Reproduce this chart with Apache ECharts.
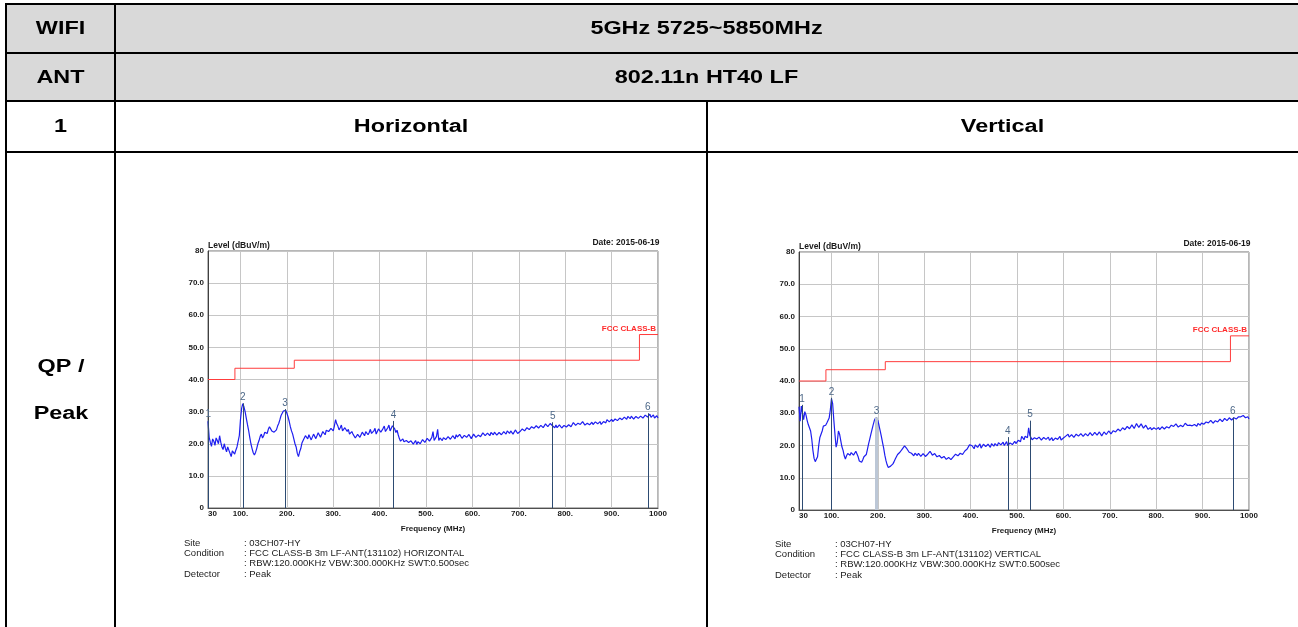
<!DOCTYPE html>
<html>
<head>
<meta charset="utf-8">
<title>Radiated Emission 30-1000 MHz</title>
<script src="https://cdn.jsdelivr.net/npm/echarts@6/dist/echarts.min.js"></script>
<style>
  html, body { margin: 0; padding: 0; background: #fff; overflow: hidden; }
  #chart { width: 1298px; height: 627px; }
</style>
</head>
<body>
<div id="chart"></div>
<script>
// ---- sweep data: 30 MHz to 1000 MHz, one reading every 2.5 MHz ----
const sweepStart = 30;
const sweepStep = 2.5;

// one row = 50 MHz
const levelHorizontal = [
  27.0, 22.0, 20.5, 19.2, 21.5, 20.8, 19.5, 21.8, 21.0, 20.0, 22.5, 20.5, 19.0, 18.2, 20.0, 18.6, 17.5, 19.0, 18.5, 17.0,
  16.0, 17.8, 17.5, 16.8, 18.0, 19.0, 19.5, 22.5, 27.5, 31.0, 32.5, 31.5, 30.0, 28.0, 26.0, 24.2, 22.0, 20.0, 18.5, 17.2,
  16.5, 17.3, 18.5, 20.0, 21.0, 22.3, 23.0, 21.8, 22.5, 23.6, 24.0, 23.2, 24.5, 25.3, 25.0, 24.0, 24.5, 23.6, 23.5, 24.3,
  25.5, 26.3, 27.5, 28.8, 29.5, 30.2, 30.8, 30.4, 29.5, 28.4, 27.0, 25.3, 24.0, 23.0, 21.5, 20.0, 19.0, 17.0, 16.0, 17.5,
  18.5, 20.2, 21.0, 21.4, 22.5, 23.0, 21.5, 22.8, 22.5, 21.2, 21.8, 23.0, 22.8, 21.6, 22.0, 23.4, 23.0, 22.0, 22.3, 23.8,
  23.5, 22.8, 24.2, 24.8, 23.8, 23.2, 24.8, 25.3, 24.0, 25.6, 27.5, 26.2, 25.5, 24.3, 25.0, 25.8, 24.0, 23.5, 25.0, 24.4,
  23.8, 24.5, 23.0, 22.4, 23.8, 23.0, 22.5, 21.8, 22.0, 22.9, 23.0, 22.0, 22.3, 23.6, 23.2, 22.5, 23.8, 24.2, 22.8, 23.5,
  24.5, 23.2, 23.5, 24.0, 24.8, 23.0, 23.6, 24.6, 25.2, 23.6, 24.0, 24.8, 25.5, 23.8, 24.2, 25.0, 25.8, 24.0, 24.5, 25.6,
  25.0, 24.6, 23.5, 24.2, 22.8, 21.6, 20.8, 20.3, 21.5, 20.6, 20.2, 21.0, 21.3, 20.4, 20.0, 20.9, 21.0, 19.9, 20.4, 21.0,
  19.8, 20.6, 21.2, 20.0, 20.5, 21.3, 21.6, 20.4, 21.0, 21.7, 22.0, 20.8, 21.2, 22.0, 23.8, 21.0, 21.5, 22.3, 24.5, 21.0,
  21.8, 22.4, 21.0, 21.9, 22.3, 21.3, 21.5, 22.2, 22.6, 21.4, 21.8, 22.5, 22.0, 21.5, 22.8, 22.1, 21.6, 22.9, 22.5, 21.7,
  22.0, 22.6, 23.0, 22.0, 21.8, 22.9, 22.4, 21.6, 22.0, 23.0, 22.8, 22.0, 22.3, 22.7, 23.0, 22.2, 22.6, 23.4, 23.3, 22.5,
  22.7, 23.3, 23.0, 22.5, 23.5, 23.0, 22.8, 23.6, 23.4, 22.7, 23.0, 23.5, 23.7, 22.8, 23.1, 23.8, 23.5, 23.0, 24.0, 23.6,
  23.2, 24.0, 23.8, 23.0, 23.4, 24.3, 23.9, 23.2, 23.5, 23.8, 24.2, 24.6, 24.8, 24.0, 24.3, 25.0, 25.2, 24.4, 24.8, 25.3,
  25.5, 24.8, 25.0, 25.6, 25.8, 24.9, 25.2, 25.7, 26.0, 25.0, 25.4, 26.2, 26.3, 25.3, 25.6, 26.3, 26.0, 25.6, 25.3, 25.0,
  25.8, 25.0, 25.1, 25.9, 25.7, 24.9, 25.2, 25.7, 25.9, 25.2, 25.4, 25.9, 26.2, 25.3, 25.6, 26.6, 26.3, 25.7, 26.0, 26.4,
  26.8, 26.0, 26.2, 26.9, 26.6, 25.8, 26.0, 26.4, 26.7, 25.9, 26.3, 26.7, 26.0, 25.7, 26.8, 26.3, 26.2, 26.6, 26.9, 26.0,
  26.4, 26.9, 27.0, 26.5, 27.5, 27.0, 26.8, 27.4, 27.6, 26.9, 27.1, 27.7, 27.8, 27.2, 27.4, 28.0, 28.2, 27.5, 27.6, 28.3,
  28.0, 27.6, 28.5, 28.0, 27.8, 28.6, 28.4, 27.7, 28.0, 28.5, 28.6, 27.9, 28.2, 28.6, 28.8, 28.0, 28.4, 28.9, 29.0, 28.3,
  28.6, 29.2, 28.2, 28.5, 29.0, 28.0, 28.3, 28.7, 28.0
];

const levelVertical = [
  32.0, 27.5, 32.2, 30.0, 28.0, 30.5, 29.5, 27.8, 26.5, 26.0, 24.5, 22.0, 18.5, 16.0, 15.0, 15.3, 16.5, 20.0, 22.5, 23.0,
  24.5, 26.0, 25.5, 26.3, 27.0, 27.4, 28.5, 31.0, 34.5, 33.0, 28.0, 23.5, 19.5, 21.0, 24.5, 23.5, 21.5, 19.6, 18.5, 16.8,
  15.8, 16.8, 17.5, 18.0, 17.0, 17.8, 18.0, 17.0, 17.3, 18.2, 18.0, 16.5, 15.2, 15.8, 14.8, 15.6, 16.5, 17.0, 17.2, 18.8,
  20.5, 22.0, 23.5, 25.0, 26.5, 27.8, 28.5, 28.7, 27.8, 26.2, 24.5, 22.8, 21.0, 19.2, 17.0, 15.3, 14.0, 13.2, 12.8, 13.6,
  14.0, 14.3, 15.0, 15.8, 16.5, 17.2, 17.5, 17.9, 18.5, 18.9, 19.2, 19.9, 19.8, 19.0, 18.5, 17.9, 18.0, 17.6, 17.2, 16.8,
  17.6, 17.1, 16.9, 17.6, 17.4, 16.6, 16.8, 17.5, 17.2, 16.6, 16.7, 17.3, 17.5, 18.2, 18.0, 17.0, 16.8, 17.5, 17.2, 16.5,
  16.3, 16.9, 16.8, 16.1, 16.0, 16.6, 16.5, 15.7, 15.8, 16.3, 16.4, 15.6, 15.9, 16.5, 16.8, 17.3, 17.5, 16.8, 17.0, 17.6,
  18.0, 17.2, 17.6, 18.3, 18.6, 18.9, 19.5, 20.2, 20.8, 20.0, 19.5, 19.0, 20.2, 20.6, 19.4, 19.9, 20.5, 19.2, 19.6, 20.4,
  20.3, 19.7, 19.5, 20.4, 20.0, 19.4, 20.6, 20.2, 19.8, 20.6, 20.4, 19.9, 20.9, 20.5, 20.2, 20.8, 21.0, 20.0, 20.5, 21.2,
  20.0, 19.6, 20.8, 20.4, 20.3, 20.9, 21.3, 20.6, 21.0, 21.6, 22.0, 21.2, 22.8, 22.3, 21.8, 22.9, 23.5, 22.4, 25.5, 23.2,
  22.5, 21.8, 22.0, 22.4, 22.6, 22.0, 21.9, 22.6, 22.5, 21.7, 22.0, 22.5, 22.8, 21.9, 22.2, 22.6, 21.6, 22.0, 22.4, 21.5,
  21.8, 22.3, 22.7, 21.9, 22.2, 22.8, 21.7, 22.2, 22.3, 21.8, 22.9, 23.2, 23.5, 22.6, 22.8, 23.4, 23.4, 22.5, 22.9, 23.5,
  23.8, 22.9, 23.0, 23.7, 23.6, 22.8, 23.2, 23.7, 23.9, 23.0, 23.3, 24.0, 23.8, 23.1, 23.4, 24.1, 24.0, 23.2, 23.5, 24.2,
  23.8, 23.0, 23.3, 24.2, 24.0, 23.4, 23.6, 24.5, 24.3, 23.6, 24.0, 24.6, 24.8, 24.2, 24.4, 25.1, 25.3, 24.5, 24.9, 25.5,
  25.6, 24.9, 25.2, 25.9, 26.0, 25.2, 25.4, 26.4, 26.2, 25.3, 25.7, 26.8, 26.5, 25.6, 25.9, 26.7, 26.3, 25.4, 25.6, 26.3,
  26.0, 25.0, 25.3, 25.6, 24.9, 24.6, 25.5, 25.2, 25.0, 25.5, 25.6, 24.9, 25.2, 25.8, 25.9, 25.1, 25.4, 25.8, 26.1, 25.4,
  25.8, 26.3, 26.6, 25.9, 26.0, 26.7, 26.4, 25.7, 26.0, 26.3, 26.5, 25.8, 26.1, 26.9, 26.6, 26.2, 26.0, 26.3, 26.5, 26.1,
  25.9, 26.5, 26.4, 26.0, 26.8, 26.5, 26.3, 27.0, 27.0, 26.6, 26.8, 27.3, 27.5, 27.0, 27.0, 27.8, 27.6, 26.9, 27.2, 27.7,
  27.9, 27.3, 27.5, 28.2, 28.0, 27.4, 27.6, 28.4, 28.3, 27.7, 27.8, 28.6, 28.5, 27.9, 28.1, 28.6, 28.8, 28.2, 28.4, 28.9,
  29.4, 28.9, 28.6, 29.3, 29.0, 28.6, 28.4, 28.9, 28.2
];

// FCC Part 15 Class B limit at 3 m (step line)
const limitFreq = [30, 88, 216, 960, 1000];
const limitLevel = [40, 43.5, 46, 54, 54];
const limitName = 'FCC CLASS-B';

// marker table
const markerLabels = ['1', '2', '3', '4', '5', '6'];
const markerFreqH = [30.5, 105, 196, 430, 773, 978];
const markerLevelH = [27.4, 32.6, 30.8, 27.1, 26.7, 29.5];
const markerFreqV = [36.5, 100, 197, 480, 528, 965];
const markerLevelV = [32.6, 34.8, 28.7, 22.6, 27.7, 28.7];

// axis ticks
const xTickValues = [30, 100, 200, 300, 400, 500, 600, 700, 800, 900, 1000];
const xTickLabels = ['30', '100.', '200.', '300.', '400.', '500.', '600.', '700.', '800.', '900.', '1000'];
const yTickLabels = ['0', '10.0', '20.0', '30.0', '40.0', '50.0', '60.0', '70.0', '80'];

// report table text
const bandLabel = ['WIFI', '5GHz 5725~5850MHz'];
const antLabel = ['ANT', '802.11n HT40 LF'];
const polRow = ['1', 'Horizontal', 'Vertical'];
const detectorCell = ['QP /', 'Peak'];

// chart header / footer text
const levelTitle = 'Level (dBuV/m)';
const dateTitle = 'Date: 2015-06-19';
const footerKeys = ['Site', 'Condition', '', 'Detector'];
const footerH = [': 03CH07-HY', ': FCC CLASS-B 3m LF-ANT(131102) HORIZONTAL', ': RBW:120.000KHz VBW:300.000KHz SWT:0.500sec', ': Peak'];
const footerV = [': 03CH07-HY', ': FCC CLASS-B 3m LF-ANT(131102) VERTICAL', ': RBW:120.000KHz VBW:300.000KHz SWT:0.500sec', ': Peak'];

// ---- layout ----
const FONT = '"Liberation Sans", Arial, sans-serif';
const grids = [
  { left: 208, top: 251, width: 450, height: 257 },
  { left: 799, top: 252, width: 450, height: 258 }
];

function toPairs(levels) {
  return levels.map((v, i) => [sweepStart + i * sweepStep, v]);
}

function xAxisFor(gridIndex) {
  return {
    type: 'value', gridIndex, min: 30, max: 1000, splitNumber: 10,
    axisLine: { show: true, onZero: false, lineStyle: { color: '#505050', width: 1 } },
    axisTick: { show: false, customValues: xTickValues },
    axisLabel: {
      customValues: xTickValues,
      formatter: v => xTickLabels[xTickValues.indexOf(v)],
      margin: 2, fontSize: 8, fontWeight: 'bold', color: '#1a1a1a', fontFamily: FONT,
      showMinLabel: true, showMaxLabel: true, alignMinLabel: 'left'
    },
    splitLine: { show: true, lineStyle: { color: '#c6c6c6', width: 1 } },
    name: 'Frequency (MHz)', nameLocation: 'middle', nameGap: 17,
    nameTextStyle: { fontSize: 8, fontWeight: 'bold', color: '#1a1a1a', fontFamily: FONT }
  };
}

function yAxisFor(gridIndex) {
  return {
    type: 'value', gridIndex, min: 0, max: 80, interval: 10,
    axisLine: { show: true, onZero: false, lineStyle: { color: '#404040', width: 1 } },
    axisTick: { show: false },
    axisLabel: {
      formatter: v => yTickLabels[Math.round(v / 10)],
      margin: 4, fontSize: 8, fontWeight: 'bold', color: '#1a1a1a', fontFamily: FONT
    },
    splitLine: { show: true, lineStyle: { color: '#c6c6c6', width: 1 } }
  };
}

function traceSeries(idx, levels, mFreq, mLevel, shadedMarkers) {
  const lines = mFreq.map((f, i) => [{ coord: [f, 0] }, { coord: [f, mLevel[i]] }]);
  const series = [{
    type: 'line', xAxisIndex: idx, yAxisIndex: idx,
    data: toPairs(levels), showSymbol: false, symbol: 'none',
    lineStyle: { color: '#1e1ef0', width: 1.2 }, z: 3, animation: false,
    emphasis: { disabled: true },
    markLine: {
      silent: true, symbol: ['none', 'none'], animation: false, z: 4,
      lineStyle: { color: '#2d4b72', width: 1, type: 'solid' },
      label: {
        show: true, position: 'end', distance: 1,
        formatter: p => markerLabels[p.dataIndex],
        color: '#4d6888', fontSize: 10, fontFamily: FONT
      },
      emphasis: { disabled: true },
      data: lines
    }
  }];
  if (shadedMarkers.length) {
    // soft halo behind some marker lines
    series.push({
      type: 'line', xAxisIndex: idx, yAxisIndex: idx, data: [], z: 2,
      markLine: {
        silent: true, symbol: ['none', 'none'], animation: false,
        lineStyle: { color: '#bcc7d6', width: 3, type: 'solid' },
        label: { show: false }, emphasis: { disabled: true },
        data: shadedMarkers.map(i => lines[i])
      }
    });
  }
  return series;
}

function limitSeries(idx) {
  return {
    type: 'line', xAxisIndex: idx, yAxisIndex: idx, step: 'end',
    data: limitFreq.map((f, i) => [f, limitLevel[i]]),
    showSymbol: false, symbol: 'none', animation: false, z: 3,
    lineStyle: { color: '#ff3c3c', width: 1 },
    emphasis: { disabled: true },
    markPoint: {
      symbol: 'circle', symbolSize: 0, silent: true, animation: false,
      data: [{ coord: [limitFreq[limitFreq.length - 1], limitLevel[limitLevel.length - 1]] }],
      label: {
        show: true, position: 'top', distance: 2, align: 'right', offset: [-2, 0],
        formatter: limitName, color: '#ff2a2a', fontWeight: 'bold', fontSize: 8, fontFamily: FONT
      }
    }
  };
}

// ---- report table graphics ----
const W = 1298, H = 627;
const colA = 6, colB = 115, colC = 707;
const rowY = [4, 53, 101, 152];
const gfx = [];

gfx.push({ type: 'rect', shape: { x: colA, y: rowY[0], width: W - colA, height: rowY[2] - rowY[0] }, style: { fill: '#d9d9d9' }, z: 0 });
rowY.forEach(y => gfx.push({ type: 'line', shape: { x1: colA - 1, y1: y, x2: W, y2: y }, style: { stroke: '#000', lineWidth: 2 }, z: 1 }));
gfx.push({ type: 'line', shape: { x1: colA, y1: rowY[0] - 1, x2: colA, y2: H }, style: { stroke: '#000', lineWidth: 2 }, z: 1 });
gfx.push({ type: 'line', shape: { x1: colB, y1: rowY[0] - 1, x2: colB, y2: H }, style: { stroke: '#000', lineWidth: 2 }, z: 1 });
gfx.push({ type: 'line', shape: { x1: colC, y1: rowY[2], x2: colC, y2: H }, style: { stroke: '#000', lineWidth: 2 }, z: 1 });

function cellText(text, x, y) {
  return {
    type: 'text', x, y, scaleX: 1.3, z: 2,
    style: { text, font: 'bold 18px ' + FONT, fill: '#000', align: 'center', verticalAlign: 'middle' }
  };
}
gfx.push(cellText(bandLabel[0], (colA + colB) / 2, 29));
gfx.push(cellText(bandLabel[1], (colB + W) / 2, 29));
gfx.push(cellText(antLabel[0], (colA + colB) / 2, 78));
gfx.push(cellText(antLabel[1], (colB + W) / 2, 78));
gfx.push(cellText(polRow[0], (colA + colB) / 2, 127.5));
gfx.push(cellText(polRow[1], (colB + colC) / 2, 127.5));
gfx.push(cellText(polRow[2], (colC + W) / 2, 127.5));
gfx.push(cellText(detectorCell[0], 61, 367));
gfx.push(cellText(detectorCell[1], 61, 414));

// chart headers and footers
function smallText(text, x, y, align, bold, size, color) {
  return {
    type: 'text', x, y, z: 5,
    style: {
      text, font: (bold ? 'bold ' : '') + size + 'px ' + FONT,
      fill: color, align, verticalAlign: 'middle'
    }
  };
}
[footerH, footerV].forEach((footer, gi) => {
  const g = grids[gi];
  gfx.push(smallText(levelTitle, g.left, g.top - 5.5, 'left', true, 8.5, '#1a1a1a'));
  gfx.push(smallText(dateTitle, g.left + g.width + 1.5, g.top - 8, 'right', true, 8.5, '#1a1a1a'));
  footer.forEach((t, i) => {
    const y = g.top + 292 + i * 10.3;
    if (footerKeys[i]) gfx.push(smallText(footerKeys[i], g.left - 24, y, 'left', false, 9.5, '#222'));
    gfx.push(smallText(t, g.left + 36, y, 'left', false, 9.5, '#222'));
  });
});

const chart = echarts.init(document.getElementById('chart'), null, { renderer: 'canvas' });
chart.setOption({
  animation: false,
  backgroundColor: '#ffffff',
  grid: grids.map(g => Object.assign({ show: true, borderColor: '#6e6e6e', borderWidth: 1, backgroundColor: '#fff', containLabel: false }, g)),
  xAxis: [xAxisFor(0), xAxisFor(1)],
  yAxis: [yAxisFor(0), yAxisFor(1)],
  series: [
    ...traceSeries(0, levelHorizontal, markerFreqH, markerLevelH, []),
    limitSeries(0),
    ...traceSeries(1, levelVertical, markerFreqV, markerLevelV, [2]),
    limitSeries(1)
  ],
  graphic: { elements: gfx }
});
</script>
</body>
</html>
